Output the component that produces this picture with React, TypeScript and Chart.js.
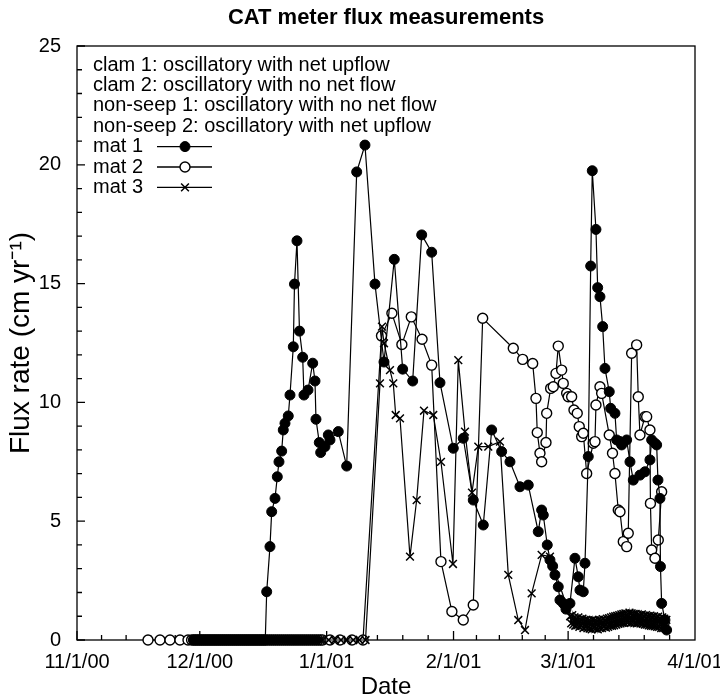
import React, { useEffect, useRef } from "react";
import { Chart, registerables } from "chart.js";

Chart.register(...registerables);

const FONT = '"Liberation Sans", Arial, Helvetica, sans-serif';

// x axis: days since 11/1/00
const MONTH_DAYS = [0, 30, 61, 92, 120, 151];
const MONTH_LABELS = ["11/1/00", "12/1/00", "1/1/01", "2/1/01", "3/1/01", "4/1/01"];
const Y_TICKS = [0, 5, 10, 15, 20, 25];

const NOTES = [
  "clam 1: oscillatory with net upflow",
  "clam 2: oscillatory with no net flow",
  "non-seep 1: oscillatory with no net flow",
  "non-seep 2: oscillatory with net upflow",
];

// mat 1 (filled circles)
const MAT1_ZERO_DAY = [28.5, 29, 29.5, 30, 30.5, 31, 31.5, 32, 32.5, 33, 33.5, 34, 34.5, 35, 35.5, 36, 36.5, 37, 37.5, 38, 38.5, 39, 39.5, 40, 40.5, 41, 41.5, 42, 42.5, 43, 43.5, 44, 44.5, 45, 45.5, 46];
const MAT1_DAY = [46.35, 47.15, 47.57, 48.38, 48.94, 49.35, 50.01, 50.4, 50.82, 51.62, 52.04, 52.85, 53.14, 53.75, 54.36, 55.14, 55.46, 56.44, 57.59, 58.15, 58.39, 59.2, 59.54, 60.59, 61.4, 61.81, 63.84, 65.89, 68.34, 70.36, 72.81, 75.01, 77.52, 79.57, 82.02, 84.22, 86.66, 88.69, 91.94, 94.38, 96.82, 99.27, 101.32, 103.76, 105.79, 108.23, 110.26, 112.7, 113.53, 113.93, 114.9, 115.56, 116.22, 116.78, 117.59, 118.0, 118.81, 119.47, 120.45, 121.67, 122.48, 122.89, 123.7, 124.12, 124.92, 125.51, 125.9, 126.8, 127.22, 127.78, 128.44, 129.0, 130.05, 130.39, 131.44, 131.86, 132.67, 133.08, 134.3, 135.11, 135.92, 137.55, 138.77, 139.99, 140.41, 141.22, 141.63, 141.95, 142.44, 142.56, 142.85, 143.66, 144.07];
const MAT1_FLUX = [2.03, 3.93, 5.4, 5.96, 6.87, 7.5, 7.95, 8.84, 9.12, 9.43, 10.31, 12.34, 14.98, 16.8, 13.0, 11.9, 10.31, 10.52, 11.65, 10.9, 9.29, 8.31, 7.89, 8.14, 8.63, 8.42, 8.77, 7.32, 19.7, 20.83, 14.98, 11.7, 16.02, 11.4, 10.9, 17.05, 16.32, 10.83, 8.07, 8.49, 5.89, 4.84, 8.84, 7.93, 7.5, 6.45, 6.52, 4.56, 5.47, 5.26, 4.0, 3.37, 3.11, 2.74, 2.24, 1.68, 1.54, 1.3, 1.54, 3.44, 2.66, 2.1, 2.03, 3.23, 7.72, 15.74, 19.75, 17.28, 14.83, 14.45, 13.19, 11.43, 10.45, 9.75, 9.54, 8.42, 8.35, 8.21, 8.42, 7.5, 6.73, 6.94, 7.08, 7.58, 8.42, 8.28, 8.21, 6.73, 5.96, 3.09, 1.54, 0.84, 0.42];

// mat 2 (open circles)
const MAT2_ZERO_DAY = [17.35, 20.28, 22.72, 25.16, 27.12, 28, 28.5, 29, 29.5, 30, 30.5, 31, 31.5, 32, 32.5, 33, 33.5, 34, 34.5, 35, 35.5, 36, 36.5, 37, 37.5, 38, 38.5, 39, 39.5, 40, 40.5, 41, 41.5, 42, 42.5, 43, 43.5, 44, 44.5, 45, 45.5, 46, 46.5, 47, 47.5, 48, 48.5, 49, 49.5, 50, 50.5, 51, 51.5, 52, 52.5, 53, 53.5, 54, 54.5, 55, 55.5, 56, 56.5, 57, 57.5, 58, 58.5, 59, 59.5, 60, 61.81, 64.26, 67.19, 69.88];
const MAT2_DAY = [74.4, 76.94, 79.38, 81.68, 84.31, 86.66, 88.93, 91.6, 94.38, 96.82, 99.12, 106.6, 108.89, 111.34, 112.14, 112.46, 113.12, 113.53, 114.59, 114.76, 115.73, 116.37, 117.03, 117.59, 118.42, 118.81, 119.64, 120.03, 120.86, 121.43, 122.23, 122.72, 123.31, 123.7, 124.53, 126.14, 126.56, 126.8, 127.78, 128.19, 130.05, 130.84, 131.44, 132.25, 132.67, 133.48, 134.3, 134.69, 135.52, 136.74, 137.14, 137.55, 138.77, 139.19, 139.99, 140.11, 140.41, 141.22, 142.03, 142.85];
const MAT2_FLUX = [12.8, 13.75, 12.44, 13.6, 12.66, 11.57, 3.3, 1.2, 0.84, 1.47, 13.54, 12.28, 11.81, 11.64, 10.17, 8.73, 7.86, 7.5, 8.31, 9.54, 10.59, 10.66, 11.22, 12.37, 11.36, 10.8, 10.38, 10.24, 10.24, 9.68, 9.54, 8.98, 8.56, 8.7, 7.01, 8.28, 8.35, 9.89, 10.66, 10.38, 8.63, 7.86, 7.01, 5.47, 5.4, 4.14, 3.93, 4.49, 12.07, 12.42, 10.24, 8.63, 9.4, 9.4, 8.84, 5.75, 3.79, 3.44, 4.21, 6.24];

// mat 3 (crosses)
const MAT3_ZERO_DAY = [28.5, 29, 29.5, 30, 30.5, 31, 31.5, 32, 32.5, 33, 33.5, 34, 34.5, 35, 35.5, 36, 36.5, 37, 37.5, 38, 38.5, 39, 39.5, 40, 40.5, 41, 41.5, 42, 42.5, 43, 43.5, 44, 44.5, 45, 45.5, 46, 46.5, 47, 47.5, 48, 48.5, 49, 49.5, 50, 50.5, 51, 51.5, 52, 52.5, 53, 53.5, 54, 54.5, 55, 55.5, 56, 56.5, 57, 57.5, 58, 58.5, 59, 59.5, 60, 61.5, 63, 64.5, 66, 67.5, 69, 70.5];
const MAT3_DAY = [74.03, 74.52, 75.01, 76.47, 77.28, 77.87, 78.92, 81.36, 82.99, 84.78, 87.05, 88.93, 91.86, 93.16, 94.8, 96.51, 98.05, 100.49, 103.35, 105.38, 107.82, 109.46, 111.09, 113.53, 115.56];
const MAT3_FLUX = [10.8, 13.19, 12.49, 11.36, 10.8, 9.47, 9.33, 3.51, 5.89, 9.65, 9.47, 7.5, 3.2, 11.78, 8.77, 6.2, 8.14, 8.14, 8.35, 2.74, 0.84, 0.42, 1.96, 3.58, 3.51];
const MAT3_LATE_DAY = [120.5, 120.75, 121, 121.25, 121.5, 121.75, 122, 122.25, 122.5, 122.75, 123, 123.25, 123.5, 123.75, 124, 124.25, 124.5, 124.75, 125, 125.25, 125.5, 125.75, 126, 126.25, 126.5, 126.75, 127, 127.25, 127.5, 127.75, 128, 128.25, 128.5, 128.75, 129, 129.25, 129.5, 129.75, 130, 130.25, 130.5, 130.75, 131, 131.25, 131.5, 131.75, 132, 132.25, 132.5, 132.75, 133, 133.25, 133.5, 133.75, 134, 134.25, 134.5, 134.75, 135, 135.25, 135.5, 135.75, 136, 136.25, 136.5, 136.75, 137, 137.25, 137.5, 137.75, 138, 138.25, 138.5, 138.75, 139, 139.25, 139.5, 139.75, 140, 140.25, 140.5, 140.75, 141, 141.25, 141.5, 141.75, 142, 142.25, 142.5, 142.75, 143, 143.25, 143.5, 143.75, 144];
const MAT3_LATE_FLUX = [1.0, 0.7, 1.05, 0.65, 0.95, 0.6, 0.9, 0.62, 0.95, 0.55, 0.88, 0.6, 0.9, 0.5, 0.85, 0.55, 0.85, 0.5, 0.82, 0.48, 0.8, 0.45, 0.85, 0.5, 0.82, 0.48, 0.8, 0.45, 0.85, 0.5, 0.82, 0.5, 0.88, 0.55, 0.85, 0.52, 0.9, 0.55, 0.92, 0.6, 0.95, 0.6, 0.98, 0.62, 1.0, 0.65, 1.02, 0.68, 1.05, 0.7, 1.08, 0.72, 1.1, 0.72, 1.12, 0.75, 1.1, 0.75, 1.15, 0.72, 1.12, 0.75, 1.1, 0.72, 1.1, 0.7, 1.08, 0.72, 1.05, 0.7, 1.08, 0.68, 1.02, 0.65, 1.05, 0.65, 1.0, 0.62, 1.02, 0.6, 0.98, 0.6, 1.0, 0.58, 0.95, 0.55, 0.98, 0.55, 0.92, 0.5, 0.95, 0.5, 0.9, 0.5, 0.85];

const pts = (days: number[], flux: number[]) => days.map((d, i) => ({ x: d, y: flux[i] }));
const zeros = (days: number[]) => days.map((d) => ({ x: d, y: 0 }));

function drawMarker(ctx: CanvasRenderingContext2D, ds: any, x: number, y: number) {
  const r = ds.pointRadius;
  ctx.save();
  ctx.lineWidth = ds.pointBorderWidth;
  ctx.strokeStyle = ds.pointBorderColor;
  ctx.fillStyle = ds.pointBackgroundColor;
  ctx.beginPath();
  if (ds.pointStyle === "crossRot") {
    const d = r * Math.SQRT1_2;
    ctx.moveTo(x - d, y - d);
    ctx.lineTo(x + d, y + d);
    ctx.moveTo(x - d, y + d);
    ctx.lineTo(x + d, y - d);
    ctx.stroke();
  } else {
    ctx.arc(x, y, r, 0, Math.PI * 2);
    ctx.fill();
    ctx.stroke();
  }
  ctx.restore();
}

const framePlugin = {
  id: "frame",
  beforeDatasetsDraw(chart: any) {
    const { ctx, chartArea, scales } = chart;
    const { left, right, top, bottom } = chartArea;
    ctx.save();
    ctx.strokeStyle = "#000";
    ctx.lineWidth = 1.3;
    ctx.strokeRect(left, top, right - left, bottom - top);
    ctx.beginPath();
    for (let v = Y_TICKS[0]; v <= Y_TICKS[Y_TICKS.length - 1]; v++) {
      const py = scales.y.getPixelForValue(v);
      const len = v % 5 === 0 ? 8 : 5;
      ctx.moveTo(left, py);
      ctx.lineTo(left + len, py);
    }
    for (let i = 0; i < MONTH_DAYS.length - 1; i++) {
      const a = MONTH_DAYS[i];
      const b = MONTH_DAYS[i + 1];
      for (let k = 0; k < 5; k++) {
        const px = scales.x.getPixelForValue(a + ((b - a) * k) / 5);
        const len = k === 0 ? 9 : 5;
        ctx.moveTo(px, bottom);
        ctx.lineTo(px, bottom - len);
      }
    }
    ctx.stroke();
    ctx.restore();
  },
};

const notesPlugin = {
  id: "notes",
  afterDraw(chart: any) {
    const { ctx, chartArea } = chart;
    const x0 = chartArea.left + 16;
    const y0 = chartArea.top + 19;
    const lh = 20.4;
    ctx.save();
    ctx.font = `20px ${FONT}`;
    ctx.fillStyle = "#000";
    ctx.textAlign = "left";
    ctx.textBaseline = "middle";
    NOTES.forEach((t, i) => ctx.fillText(t, x0, y0 + i * lh));
    chart.data.datasets.forEach((ds: any, j: number) => {
      const yy = y0 + (NOTES.length + j) * lh;
      ctx.fillStyle = "#000";
      ctx.fillText(ds.label, x0, yy);
      ctx.beginPath();
      ctx.moveTo(chartArea.left + 80, yy);
      ctx.lineTo(chartArea.left + 135, yy);
      ctx.lineWidth = 1.3;
      ctx.strokeStyle = "#000";
      ctx.stroke();
      drawMarker(ctx, ds, chartArea.left + 108, yy);
    });
    ctx.restore();
  },
};

export default function App() {
  const ref = useRef<HTMLCanvasElement>(null);
  useEffect(() => {
    const common = {
      borderColor: "#000",
      borderWidth: 1.2,
      tension: 0,
      clip: false as any,
    };
    const chart = new Chart(ref.current as HTMLCanvasElement, {
      type: "line",
      data: {
        datasets: [
          {
            ...common,
            label: "mat 1",
            data: [...zeros(MAT1_ZERO_DAY), ...pts(MAT1_DAY, MAT1_FLUX)],
            pointStyle: "circle",
            pointRadius: 5,
            pointBackgroundColor: "#000",
            pointBorderColor: "#000",
            pointBorderWidth: 1,
            order: 2,
          },
          {
            ...common,
            label: "mat 2",
            data: [...zeros(MAT2_ZERO_DAY), ...pts(MAT2_DAY, MAT2_FLUX)],
            pointStyle: "circle",
            pointRadius: 5,
            pointBackgroundColor: "#fff",
            pointBorderColor: "#000",
            pointBorderWidth: 1.4,
            order: 3,
          },
          {
            ...common,
            label: "mat 3",
            data: [...zeros(MAT3_ZERO_DAY), ...pts(MAT3_DAY, MAT3_FLUX), ...pts(MAT3_LATE_DAY, MAT3_LATE_FLUX)],
            pointStyle: "crossRot",
            pointRadius: 5.5,
            pointBackgroundColor: "#000",
            pointBorderColor: "#000",
            pointBorderWidth: 1.5,
            order: 1,
          },
        ] as any,
      },
      options: {
        animation: false,
        responsive: false,
        events: [],
        layout: { padding: { left: 0, right: 25, top: 0, bottom: 0 } },
        plugins: {
          legend: { display: false },
          tooltip: { enabled: false },
          title: {
            display: true,
            fullSize: false,
            text: "CAT meter flux measurements",
            color: "#000",
            font: { family: FONT, size: 22, weight: "bold", lineHeight: 1.2 },
            padding: { top: 5, bottom: 14.6 },
          },
        },
        scales: {
          x: {
            type: "linear",
            min: MONTH_DAYS[0],
            max: MONTH_DAYS[MONTH_DAYS.length - 1],
            grid: { display: false, drawTicks: false },
            border: { display: false },
            afterBuildTicks: (s: any) => {
              s.ticks = MONTH_DAYS.map((v) => ({ value: v }));
            },
            ticks: {
              autoSkip: false,
              maxRotation: 0,
              padding: 10,
              color: "#000",
              font: { family: FONT, size: 20 },
              callback: (v: any) => {
                const i = MONTH_DAYS.indexOf(Number(v));
                return i >= 0 ? MONTH_LABELS[i] : "";
              },
            },
            title: {
              display: true,
              text: "Date",
              color: "#000",
              font: { family: FONT, size: 24, lineHeight: 1 },
              padding: { top: 0, bottom: 1 },
            },
            afterFit: (s: any) => {
              s.height = 60;
              s.paddingLeft = 0;
              s.paddingRight = 0;
            },
          },
          y: {
            type: "linear",
            min: 0,
            max: 25,
            grid: { display: false, drawTicks: false },
            border: { display: false },
            afterBuildTicks: (s: any) => {
              s.ticks = Y_TICKS.map((v) => ({ value: v }));
            },
            ticks: {
              padding: 16,
              color: "#000",
              font: { family: FONT, size: 20 },
            },
            title: {
              display: true,
              text: "Flux rate (cm yr\u207B\u00B9)",
              color: "#000",
              font: { family: FONT, size: 28, lineHeight: 1 },
              padding: { top: 7, bottom: 0 },
            },
            afterFit: (s: any) => {
              s.width = 77;
              s.paddingTop = 0;
              s.paddingBottom = 0;
            },
          },
        },
      } as any,
      plugins: [framePlugin, notesPlugin],
    });
    return () => chart.destroy();
  }, []);
  return (
    <div style={{ position: "fixed", left: 0, top: 0, width: 720, height: 700, background: "#fff" }}>
      <canvas ref={ref} width={720} height={700} style={{ width: 720, height: 700, display: "block" }} />
    </div>
  );
}
